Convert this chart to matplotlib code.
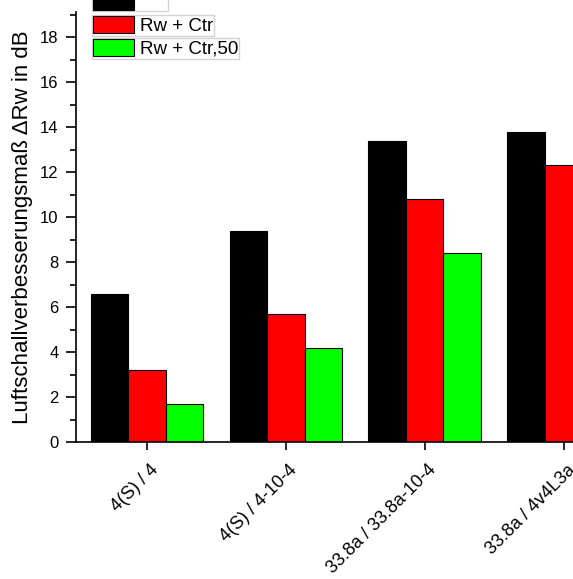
import numpy as np
import matplotlib
matplotlib.use("Agg")
import matplotlib.pyplot as plt
from matplotlib.transforms import ScaledTranslation

plt.rcParams['font.family'] = ['Liberation Sans', 'DejaVu Sans']

categories = ["4(S) / 4", "4(S) / 4-10-4", "33.8a / 33.8a-10-4", "33.8a / 4v4L3a"]
rw = [6.6, 9.4, 13.4, 13.8]
rw_ctr = [3.2, 5.7, 10.8, 12.3]
rw_ctr50 = [1.7, 4.2, 8.4, np.nan]
series_labels = ["Rw", "Rw + Ctr", "Rw + Ctr,50"]
colors = ["#000000", "#ff0000", "#00ff00"]

W, H = 573, 579
fig = plt.figure(figsize=(W / 100, H / 100), dpi=100)
ax = fig.add_axes([76 / W, (H - 442) / H, 571 / W, 429.75 / H])

x = np.arange(1, len(categories) + 1)
bw = 0.27
bars = []
for i, (vals, c) in enumerate(zip([rw, rw_ctr, rw_ctr50], colors)):
    b = ax.bar(x + (i - 1) * bw, vals, bw, color=c, edgecolor="black", linewidth=0.8,
               label=series_labels[i])
    bars.append(b)

ax.set_xlim(0.49, 4.6)
ax.set_ylim(0, 19.1)
ax.set_yticks(np.arange(0, 19, 2))
ax.set_yticks(np.arange(1, 20, 2), minor=True)
ax.set_xticks(x)
ax.set_xticklabels(categories, rotation=45, ha="right", va="top", rotation_mode="anchor",
                   fontsize=13)
ax.tick_params(axis="y", labelsize=12, direction="out", length=7, width=1.2, pad=5.5)
ax.tick_params(axis="y", which="minor", length=4.5, width=1.2)
ax.tick_params(axis="x", direction="out", length=6, width=1.2, pad=8)
shift = ScaledTranslation(3 / 100, 0, fig.dpi_scale_trans)
for lab in ax.get_xticklabels():
    lab.set_transform(lab.get_transform() + shift)
for s in ["top", "right"]:
    ax.spines[s].set_visible(False)
for s in ["left", "bottom"]:
    ax.spines[s].set_linewidth(1.2)

ax.set_ylabel("Luftschallverbesserungsmaß ΔRw in dB", fontsize=16, labelpad=5)

# legend entries, each in its own light frame
tops = [-25, 15, 38]
hh = [2.4, 1.0, 1.0]
for b, lab, t, h in zip(bars, series_labels, tops, hh):
    leg = fig.legend([b], [lab], loc="upper left", bbox_to_anchor=(92 / W, 1 - t / H),
                     fontsize=13.5, frameon=True, fancybox=False, borderpad=0.05,
                     handlelength=2.2, handleheight=h, handletextpad=0.3,
                     borderaxespad=0)
    leg.get_frame().set_edgecolor("#c8c8c8")
    leg.get_frame().set_linewidth(1.0)

fig.savefig("out.png", dpi=100)
